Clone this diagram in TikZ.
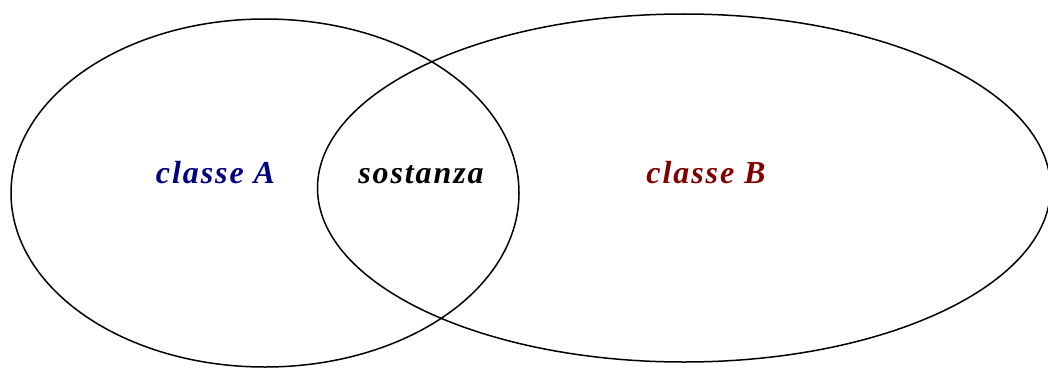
\documentclass[tikz,border=0pt]{standalone}
\usepackage{fontspec}
\setmainfont{Liberation Serif}
\definecolor{navyA}{HTML}{000080}
\definecolor{darkredB}{HTML}{800000}
\tikzset{
  venn/.style={draw=black, line width=1.5pt},
  lbl/.style={anchor=base, inner sep=0pt, font=\fontsize{32}{36}\selectfont\bfseries\itshape\addfontfeature{LetterSpace=6}}
}
\begin{document}
\begin{tikzpicture}[x=1pt,y=-1pt]
\useasboundingbox (0,0) rectangle (1048,369);
\draw[venn] (265,193) ellipse [x radius=254, y radius=174];
\draw[venn] (684,188) ellipse [x radius=366.5, y radius=174];
\node[lbl, text=navyA] (a) at (215.5,183) {classe A};
\node[lbl, text=black] (s) at (421,183) {sostanza};
\node[lbl, text=darkredB] (b) at (706,183) {classe B};
\end{tikzpicture}
\end{document}
